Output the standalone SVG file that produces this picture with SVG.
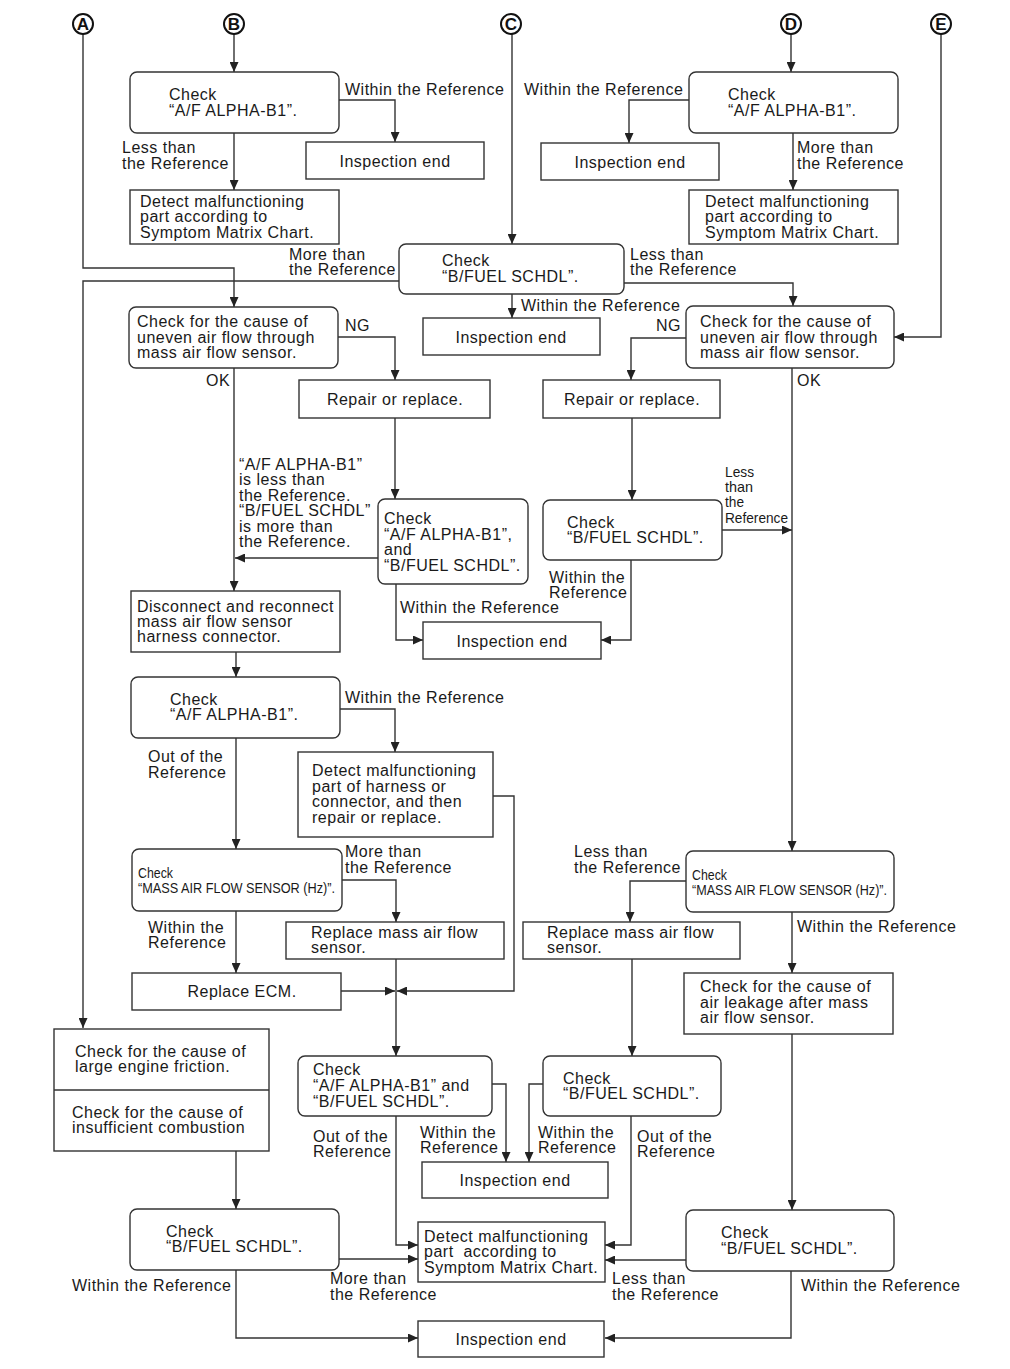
<svg xmlns="http://www.w3.org/2000/svg" width="1010" height="1369" viewBox="0 0 1010 1369">
<style>
.bg{fill:#fff}
.n{fill:#fff;stroke:#333;stroke-width:1.4}
.t{font-family:"Liberation Sans",Arial,sans-serif;font-size:16px;letter-spacing:0.5px;fill:#1a1a1a}
.k{font-family:"Liberation Sans",Arial,sans-serif;font-size:15px;fill:#1a1a1a}
.m{text-anchor:middle}
.e{fill:none;stroke:#333;stroke-width:1.4;marker-end:url(#ah)}
.ci{fill:#fff;stroke:#111;stroke-width:2}
.cl{font-family:"Liberation Sans",Arial,sans-serif;font-size:17px;font-weight:bold;fill:#111;text-anchor:middle}
</style>
<defs>
<marker id="ah" markerUnits="userSpaceOnUse" markerWidth="10" markerHeight="9" refX="10" refY="4.5" orient="auto">
<path d="M0,0 L10,4.5 L0,9 z" fill="#222"/>
</marker>
</defs>
<rect class="bg" x="0" y="0" width="1010" height="1369"/>

<g id="connectors">
<polyline class="e" points="234,34 234,72"/>
<polyline class="e" points="339,100 395,100 395,142"/>
<polyline class="e" points="234,133 234,190"/>
<polyline class="e" points="83,34 83,268 234,268 234,307"/>
<polyline class="e" points="512,34 512,244"/>
<polyline class="e" points="399,281 83,281 83,1028"/>
<polyline class="e" points="624,283 793,283 793,306"/>
<polyline class="e" points="512,294 512,318"/>
<polyline class="e" points="791,34 791,72"/>
<polyline class="e" points="689,100 629,100 629,143"/>
<polyline class="e" points="793,133 793,190"/>
<polyline class="e" points="941,34 941,337 894,337"/>
<polyline class="e" points="338,337 395,337 395,380"/>
<polyline class="e" points="686,338 631,338 631,380"/>
<polyline class="e" points="234,368 234,591"/>
<polyline class="e" points="395,418 395,499"/>
<polyline class="e" points="378,558 235,558"/>
<polyline class="e" points="396,584 396,640 423,640"/>
<polyline class="e" points="632,418 632,500"/>
<polyline class="e" points="631,560 631,640 601,640"/>
<polyline class="e" points="722,530 792,530"/>
<polyline class="e" points="792,368 792,851"/>
<polyline class="e" points="236,652 236,677"/>
<polyline class="e" points="340,709 395,709 395,752"/>
<polyline class="e" points="236,738 236,849"/>
<polyline class="e" points="493,796 514,796 514,991 397,991"/>
<polyline class="e" points="342,880 396,880 396,922"/>
<polyline class="e" points="236,911 236,973"/>
<polyline class="e" points="341,991 395,991"/>
<polyline class="e" points="396,959 396,1056"/>
<polyline class="e" points="686,881 630,881 630,922"/>
<polyline class="e" points="792,912 792,973"/>
<polyline class="e" points="792,1034 792,1210"/>
<polyline class="e" points="632,959 632,1056"/>
<polyline class="e" points="236,1151 236,1209"/>
<polyline class="e" points="492,1084 506,1084 506,1162"/>
<polyline class="e" points="396,1116 396,1245 418,1245"/>
<polyline class="e" points="543,1084 529,1084 529,1162"/>
<polyline class="e" points="631,1116 631,1245 605,1245"/>
<polyline class="e" points="339,1259 418,1259"/>
<polyline class="e" points="236,1270 236,1338 418,1338"/>
<polyline class="e" points="686,1260 605,1260"/>
<polyline class="e" points="791,1271 791,1338 605,1338"/>
</g>

<g id="labels">
<text class="t" x="345" y="95">Within the Reference</text>
<text class="t" x="524" y="95">Within the Reference</text>
<text class="t" x="122" y="153">Less than</text>
<text class="t" x="122" y="169">the Reference</text>
<text class="t" x="797" y="153">More than</text>
<text class="t" x="797" y="169">the Reference</text>
<text class="t" x="289" y="260">More than</text>
<text class="t" x="289" y="275">the Reference</text>
<text class="t" x="630" y="260">Less than</text>
<text class="t" x="630" y="275">the Reference</text>
<text class="t" x="521" y="311">Within the Reference</text>
<text class="t" x="345" y="331">NG</text>
<text class="t" x="656" y="331">NG</text>
<text class="t" x="206" y="386">OK</text>
<text class="t" x="797" y="386">OK</text>
<text class="t" x="239" y="470">“A/F ALPHA-B1”</text>
<text class="t" x="239" y="485">is less than</text>
<text class="t" x="239" y="501">the Reference.</text>
<text class="t" x="239" y="516">“B/FUEL SCHDL”</text>
<text class="t" x="239" y="532">is more than</text>
<text class="t" x="239" y="547">the Reference.</text>
<text class="k" x="725" y="477" textLength="29" lengthAdjust="spacingAndGlyphs">Less</text>
<text class="k" x="725" y="492" textLength="28" lengthAdjust="spacingAndGlyphs">than</text>
<text class="k" x="725" y="507" textLength="19" lengthAdjust="spacingAndGlyphs">the</text>
<text class="k" x="725" y="523" textLength="63" lengthAdjust="spacingAndGlyphs">Reference</text>
<text class="t" x="549" y="583">Within the</text>
<text class="t" x="549" y="598">Reference</text>
<text class="t" x="400" y="613">Within the Reference</text>
<text class="t" x="345" y="703">Within the Reference</text>
<text class="t" x="148" y="762">Out of the</text>
<text class="t" x="148" y="778">Reference</text>
<text class="t" x="345" y="857">More than</text>
<text class="t" x="345" y="873">the Reference</text>
<text class="t" x="574" y="857">Less than</text>
<text class="t" x="574" y="873">the Reference</text>
<text class="t" x="148" y="933">Within the</text>
<text class="t" x="148" y="948">Reference</text>
<text class="t" x="797" y="932">Within the Reference</text>
<text class="t" x="313" y="1142">Out of the</text>
<text class="t" x="313" y="1157">Reference</text>
<text class="t" x="420" y="1138">Within the</text>
<text class="t" x="420" y="1153">Reference</text>
<text class="t" x="538" y="1138">Within the</text>
<text class="t" x="538" y="1153">Reference</text>
<text class="t" x="637" y="1142">Out of the</text>
<text class="t" x="637" y="1157">Reference</text>
<text class="t" x="330" y="1284">More than</text>
<text class="t" x="330" y="1300">the Reference</text>
<text class="t" x="612" y="1284">Less than</text>
<text class="t" x="612" y="1300">the Reference</text>
<text class="t" x="72" y="1291">Within the Reference</text>
<text class="t" x="801" y="1291">Within the Reference</text>
</g>

<g id="cA"><circle class="ci" cx="83" cy="24" r="10"/><text class="cl" x="83" y="30">A</text></g>
<g id="cB"><circle class="ci" cx="234" cy="24" r="10"/><text class="cl" x="234" y="30">B</text></g>
<g id="cC"><circle class="ci" cx="511" cy="24" r="10"/><text class="cl" x="511" y="30">C</text></g>
<g id="cD"><circle class="ci" cx="791" cy="24" r="10"/><text class="cl" x="791" y="30">D</text></g>
<g id="cE"><circle class="ci" cx="941" cy="24" r="10"/><text class="cl" x="941" y="30">E</text></g>

<g id="n1"><rect class="n" x="130" y="72" width="209" height="61" rx="7"/>
<text class="t" x="169" y="100">Check</text><text class="t" x="169" y="116">“A/F ALPHA-B1”.</text></g>
<g id="n2"><rect class="n" x="306" y="142" width="178" height="37"/>
<text class="t m" x="395" y="167">Inspection end</text></g>
<g id="n3"><rect class="n" x="130" y="190" width="209" height="54"/>
<text class="t" x="140" y="207">Detect malfunctioning</text><text class="t" x="140" y="222">part according to</text><text class="t" x="140" y="238">Symptom Matrix Chart.</text></g>
<g id="n4"><rect class="n" x="689" y="72" width="209" height="61" rx="7"/>
<text class="t" x="728" y="100">Check</text><text class="t" x="728" y="116">“A/F ALPHA-B1”.</text></g>
<g id="n5"><rect class="n" x="541" y="143" width="178" height="37"/>
<text class="t m" x="630" y="168">Inspection end</text></g>
<g id="n6"><rect class="n" x="689" y="190" width="209" height="54"/>
<text class="t" x="705" y="207">Detect malfunctioning</text><text class="t" x="705" y="222">part according to</text><text class="t" x="705" y="238">Symptom Matrix Chart.</text></g>
<g id="n7"><rect class="n" x="399" y="244" width="225" height="50" rx="7"/>
<text class="t" x="442" y="266">Check</text><text class="t" x="442" y="282">“B/FUEL SCHDL”.</text></g>
<g id="n8"><rect class="n" x="423" y="318" width="177" height="37"/>
<text class="t m" x="511" y="343">Inspection end</text></g>
<g id="n9"><rect class="n" x="129" y="307" width="209" height="61" rx="7"/>
<text class="t" x="137" y="327">Check for the cause of</text><text class="t" x="137" y="343">uneven air flow through</text><text class="t" x="137" y="358">mass air flow sensor.</text></g>
<g id="n10"><rect class="n" x="686" y="306" width="208" height="62" rx="7"/>
<text class="t" x="700" y="327">Check for the cause of</text><text class="t" x="700" y="343">uneven air flow through</text><text class="t" x="700" y="358">mass air flow sensor.</text></g>
<g id="n11"><rect class="n" x="299" y="380" width="191" height="38"/>
<text class="t m" x="395" y="405">Repair or replace.</text></g>
<g id="n12"><rect class="n" x="543" y="380" width="177" height="38"/>
<text class="t m" x="632" y="405">Repair or replace.</text></g>
<g id="n13"><rect class="n" x="378" y="499" width="150" height="85" rx="7"/>
<text class="t" x="384" y="524">Check</text><text class="t" x="384" y="540">“A/F ALPHA-B1”,</text><text class="t" x="384" y="555">and</text><text class="t" x="384" y="571">“B/FUEL SCHDL”.</text></g>
<g id="n14"><rect class="n" x="543" y="500" width="179" height="60" rx="7"/>
<text class="t" x="567" y="528">Check</text><text class="t" x="567" y="543">“B/FUEL SCHDL”.</text></g>
<g id="n15"><rect class="n" x="423" y="622" width="178" height="37"/>
<text class="t m" x="512" y="647">Inspection end</text></g>
<g id="n16"><rect class="n" x="131" y="591" width="209" height="61"/>
<text class="t" x="137" y="612">Disconnect and reconnect</text><text class="t" x="137" y="627">mass air flow sensor</text><text class="t" x="137" y="642">harness connector.</text></g>
<g id="n17"><rect class="n" x="131" y="677" width="209" height="61" rx="7"/>
<text class="t" x="170" y="705">Check</text><text class="t" x="170" y="720">“A/F ALPHA-B1”.</text></g>
<g id="n18"><rect class="n" x="298" y="752" width="195" height="85"/>
<text class="t" x="312" y="776">Detect malfunctioning</text><text class="t" x="312" y="792">part of harness or</text><text class="t" x="312" y="807">connector, and then</text><text class="t" x="312" y="823">repair or replace.</text></g>
<g id="n19"><rect class="n" x="132" y="849" width="210" height="62" rx="7"/>
<text class="k" x="138" y="878" textLength="35" lengthAdjust="spacingAndGlyphs">Check</text><text class="k" x="138" y="893" textLength="197" lengthAdjust="spacingAndGlyphs">“MASS AIR FLOW SENSOR (Hz)”.</text></g>
<g id="n20"><rect class="n" x="686" y="851" width="208" height="61" rx="7"/>
<text class="k" x="692" y="880" textLength="35" lengthAdjust="spacingAndGlyphs">Check</text><text class="k" x="692" y="895" textLength="195" lengthAdjust="spacingAndGlyphs">“MASS AIR FLOW SENSOR (Hz)”.</text></g>
<g id="n21"><rect class="n" x="286" y="922" width="218" height="37"/>
<text class="t" x="311" y="938">Replace mass air flow</text><text class="t" x="311" y="953">sensor.</text></g>
<g id="n22"><rect class="n" x="523" y="922" width="217" height="37"/>
<text class="t" x="547" y="938">Replace mass air flow</text><text class="t" x="547" y="953">sensor.</text></g>
<g id="n23"><rect class="n" x="132" y="973" width="209" height="37"/>
<text class="t m" x="242" y="997">Replace ECM.</text></g>
<g id="n24"><rect class="n" x="684" y="973" width="209" height="61"/>
<text class="t" x="700" y="992">Check for the cause of</text><text class="t" x="700" y="1008">air leakage after mass</text><text class="t" x="700" y="1023">air flow sensor.</text></g>
<g id="n25"><rect class="n" x="54" y="1029" width="215" height="122"/>
<line x1="54" y1="1090" x2="269" y2="1090" stroke="#333" stroke-width="1.4"/>
<text class="t" x="75" y="1057">Check for the cause of</text><text class="t" x="75" y="1072">large engine friction.</text>
<text class="t" x="72" y="1118">Check for the cause of</text><text class="t" x="72" y="1133">insufficient combustion</text></g>
<g id="n26"><rect class="n" x="298" y="1056" width="194" height="60" rx="7"/>
<text class="t" x="313" y="1075">Check</text><text class="t" x="313" y="1091">“A/F ALPHA-B1” and</text><text class="t" x="313" y="1107">“B/FUEL SCHDL”.</text></g>
<g id="n27"><rect class="n" x="543" y="1056" width="178" height="60" rx="7"/>
<text class="t" x="563" y="1084">Check</text><text class="t" x="563" y="1099">“B/FUEL SCHDL”.</text></g>
<g id="n28"><rect class="n" x="422" y="1162" width="186" height="36"/>
<text class="t m" x="515" y="1186">Inspection end</text></g>
<g id="n29"><rect class="n" x="130" y="1209" width="209" height="61" rx="7"/>
<text class="t" x="166" y="1237">Check</text><text class="t" x="166" y="1252">“B/FUEL SCHDL”.</text></g>
<g id="n30"><rect class="n" x="418" y="1222" width="187" height="60"/>
<text class="t" x="424" y="1242">Detect malfunctioning</text><text class="t" x="424" y="1257" xml:space="preserve">part  according to</text><text class="t" x="424" y="1273">Symptom Matrix Chart.</text></g>
<g id="n31"><rect class="n" x="686" y="1210" width="208" height="61" rx="7"/>
<text class="t" x="721" y="1238">Check</text><text class="t" x="721" y="1254">“B/FUEL SCHDL”.</text></g>
<g id="n32"><rect class="n" x="418" y="1321" width="186" height="36"/>
<text class="t m" x="511" y="1345">Inspection end</text></g>
</svg>
